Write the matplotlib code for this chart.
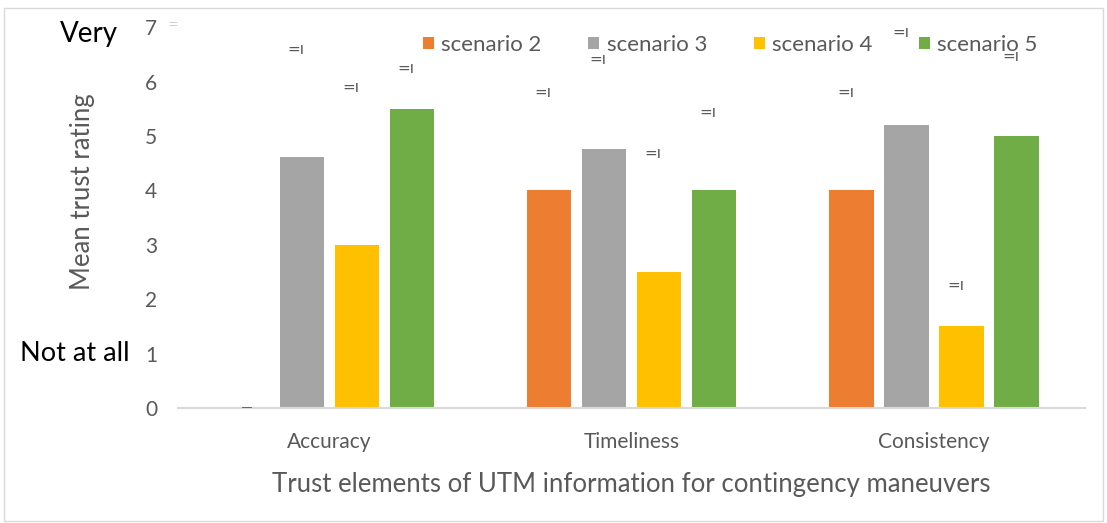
import matplotlib
matplotlib.use("Agg")
import matplotlib.pyplot as plt
import matplotlib.transforms as mtransforms
import numpy as np

plt.rcParams['font.family'] = ['Lato', 'DejaVu Sans']

categories = ['Accuracy', 'Timeliness', 'Consistency']
scenarios = ['scenario 2', 'scenario 3', 'scenario 4', 'scenario 5']
values = {
    'scenario 2': [0.0, 4.0, 4.0],
    'scenario 3': [4.62, 4.77, 5.21],
    'scenario 4': [3.0, 2.5, 1.5],
    'scenario 5': [5.5, 4.0, 5.0],
}
# heights of the broken data-label glyphs above each bar
label_y = {
    'scenario 2': [None, 5.8, 5.8],
    'scenario 3': [6.6, 6.4, 6.9],
    'scenario 4': [5.9, 4.67, 2.26],
    'scenario 5': [6.25, 5.44, 6.47],
}
colors = ['#ED7D31', '#A5A5A5', '#FFC000', '#70AD47']
yticks = [0, 1, 2, 3, 4, 5, 6, 7]

fig = plt.figure(figsize=(11.07, 5.23), dpi=100)
ax = fig.add_axes([0.1608, 0.2199, 0.8195, 0.728])

x = np.arange(len(categories))
step = 0.182
width = 0.146
for i, s in enumerate(scenarios):
    off = (i - 1.5) * step
    ax.bar(x + off, values[s], width, color=colors[i], label=s, zorder=2)
    for j, ly in enumerate(label_y[s]):
        if ly is not None:
            ax.text(x[j] + off - 0.02, ly, '=\u0131', fontsize=11, color='#595959',
                    ha='center', va='center', family='DejaVu Sans', zorder=4)

# zero-height bar marker
ax.plot([x[0] - 1.5 * step - 0.012, x[0] - 1.5 * step + 0.012], [0, 0],
        color='#595959', lw=2, zorder=3)
# faint stray label near the top of the axis
fig.text(173 / 1107, 1 - 25 / 523, '=', fontsize=9, color='#d0d0d0',
         ha='center', va='center', family='DejaVu Sans')

ax.set_xlim(-0.5, 2.5)
ax.set_ylim(0, 7)
ax.set_yticks(yticks)
ax.set_xticks(x)
ax.set_xticklabels(categories)
for sp in ['top', 'right', 'left']:
    ax.spines[sp].set_visible(False)
ax.spines['bottom'].set_color('#d9d9d9')
ax.spines['bottom'].set_linewidth(1.5)
ax.tick_params(axis='y', length=0, pad=15, labelsize=15, labelcolor='#595959')
ax.tick_params(axis='x', length=0, pad=17, labelsize=15, labelcolor='#595959')

ax.set_ylabel('Mean trust rating', fontsize=18.5, color='#595959')
ax.yaxis.set_label_coords(-0.0915, 0.567)
ax.set_xlabel('Trust elements of UTM information for contingency maneuvers',
              fontsize=18.5, color='#595959', labelpad=15)

trans = mtransforms.blended_transform_factory(fig.transFigure, ax.transData)
ax.text(118 / 1107, 6.88, 'Very', transform=trans, ha='right', va='center',
        fontsize=20, color='black')
ax.text(130 / 1107, 1, 'Not at all', transform=trans, ha='right', va='center',
        fontsize=19.5, color='black')

ax.legend(loc='center left', bbox_to_anchor=(412 / 1107, 1 - 45 / 523),
          bbox_transform=fig.transFigure, ncol=4, frameon=False, borderpad=0,
          fontsize=16, labelcolor='#595959', handlelength=0.5, handleheight=0.5,
          handletextpad=0.32, columnspacing=2.1)

fig.patches.append(plt.Rectangle((0.004, 0.004), 0.992, 0.98, transform=fig.transFigure,
                                 fill=False, edgecolor='#d9d9d9', lw=1))

fig.savefig('out.png', dpi=100)
